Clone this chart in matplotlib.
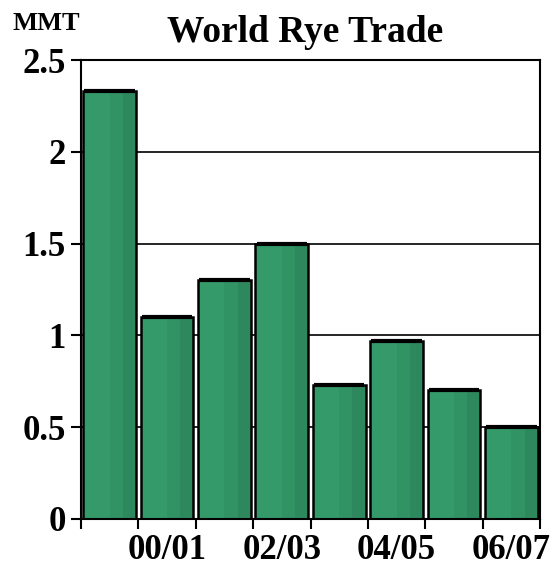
import matplotlib.pyplot as plt
import numpy as np

seasons = ["99/00", "00/01", "01/02", "02/03", "03/04", "04/05", "05/06", "06/07"]
trade = [2.33, 1.10, 1.30, 1.50, 0.73, 0.97, 0.70, 0.50]
# only every other season gets a label on the axis
shown = ["", "00/01", "", "02/03", "", "04/05", "", "06/07"]

plt.rcParams['font.family'] = ['Liberation Serif', 'DejaVu Serif']
plt.rcParams['font.weight'] = 'bold'

fig = plt.figure(figsize=(5.55, 5.67), dpi=100)
ax = fig.add_axes([0.146, 0.085, 0.827, 0.809])

x = np.arange(len(seasons))
width = 0.92
left = x + 0.5 - width / 2

# vertical shading bands to give the bars a rounded look
bands = [(0.0, 0.5, '#349a69'), (0.5, 0.25, '#319264'), (0.75, 0.25, '#2e885e')]
for start, frac, color in bands:
    ax.bar(left + start * width, trade, width=frac * width, align='edge',
           color=color, linewidth=0, zorder=2)
ax.bar(left, trade, width=width, align='edge', fill=False,
       edgecolor='black', linewidth=1.8, zorder=3)
# darker cap along the top of each bar
ax.hlines(trade, left + 0.02, left + width - 0.02, color='black',
          linewidth=3, zorder=4)

ax.set_xlim(0, len(seasons))
ax.set_ylim(0, 2.5)
ax.set_yticks([0, 0.5, 1, 1.5, 2, 2.5])
ax.set_yticklabels(["0", "0.5", "1", "1.5", "2", "2.5"])
ax.yaxis.grid(True, color='black', linewidth=1.2, zorder=0)
ax.set_axisbelow(True)

ax.set_xticks(np.arange(len(seasons) + 1))
ax.set_xticklabels([])
ax.set_xticks(x + 0.5, minor=True)
ax.set_xticklabels(shown, minor=True)
ax.tick_params(axis='x', which='minor', length=0, pad=11, labelsize=25)
ax.tick_params(axis='x', which='major', length=7, width=1.5, direction='out')
ax.tick_params(axis='y', length=7, width=1.5, direction='out', pad=4, labelsize=25)

for side in ['left', 'bottom', 'top', 'right']:
    ax.spines[side].set_linewidth(1.5)

fig.text(0.55, 0.942, "World Rye Trade", ha='center', va='center',
         fontsize=27, fontweight='bold')
fig.text(0.083, 0.958, "MMT", ha='center', va='center',
         fontsize=19, fontweight='bold')

fig.savefig("out.png", dpi=100)
